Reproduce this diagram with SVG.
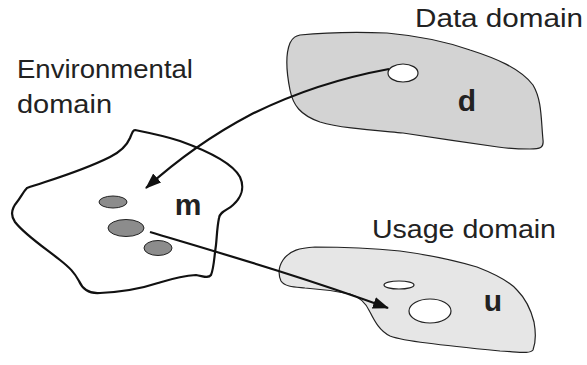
<svg xmlns="http://www.w3.org/2000/svg" width="587" height="365" viewBox="0 0 587 365">
<defs>
<style>
.lbl{font-family:"Liberation Sans",Arial,sans-serif;font-size:25px;fill:#222}
.big{font-family:"Liberation Sans",Arial,sans-serif;font-size:30px;font-weight:bold;fill:#222;text-anchor:middle}
.conn{fill:none;stroke:#111;stroke-width:2.2}
.dot{fill:#8c8c8c;stroke:#222;stroke-width:1}
.hole{fill:#fff;stroke:#222;stroke-width:1.2}
</style>
<marker id="ah" viewBox="0 0 16 12" refX="15" refY="6" markerWidth="16" markerHeight="12" markerUnits="userSpaceOnUse" orient="auto">
<path d="M0,0 L16,6 L0,12 Z" fill="#111"/>
</marker>
</defs>
<rect width="587" height="365" fill="#fff"/>

<g id="data-domain">
<path d="M300,35 C330,32 360,32 387,33 C420,36 450,43 470,50 C495,58 520,68 533,85 C542,100 541,120 543,140 C544,148 540,149 530,149 C515,149 505,148 498,147 C470,143 430,137 403,133 C370,130 340,128 320,122 C300,115 293,105 290,90 C287,75 285,55 290,43 C293,37 296,36 300,35 Z" fill="#d3d3d3" stroke="#222" stroke-width="1.2"/>
<ellipse class="hole" cx="403" cy="73" rx="15" ry="9"/>
<text class="big" x="467" y="111">d</text>
<text class="lbl" x="415" y="27" textLength="168" lengthAdjust="spacingAndGlyphs">Data domain</text>
</g>

<g id="environmental-domain">
<path d="M135,130 C150,133 165,136 180,141 C205,150 232,162 240,177 C245,188 241,198 233,205 C228,210 220,211 219,218 C217,228 217,235 216,245 C214,258 214,268 211,275 C208,279 203,276 196,275 C180,276 168,280 158,283 C140,289 120,292 100,293 C88,294 82,288 79,281 C74,272 70,268 60,260 C45,248 25,235 15,222 C10,215 12,208 17,202 C21,197 23,192 27,188 C50,180 80,172 110,157 C122,151 127,145 130,138 C132,133 133,130 135,130 Z" fill="#fff" stroke="#111" stroke-width="2.2"/>
<ellipse class="dot" cx="113" cy="202" rx="14" ry="6"/>
<ellipse class="dot" cx="126" cy="228" rx="18" ry="8.5"/>
<ellipse class="dot" cx="158" cy="248" rx="14" ry="7.5"/>
<text class="big" x="188" y="215">m</text>
<text class="lbl" x="17" y="78" textLength="176" lengthAdjust="spacingAndGlyphs">Environmental</text>
<text class="lbl" x="17" y="113" textLength="95" lengthAdjust="spacingAndGlyphs">domain</text>
</g>

<g id="usage-domain">
<path d="M283,260 C290,250 300,248 315,247 C350,247 380,249 400,251 C430,255 460,262 477,267 C495,274 510,282 517,290 C527,300 531,310 534,322 C536,333 536,342 533,350 C530,354 520,352 500,351 C480,349 450,346 427,343 C410,341 398,339 390,336 C380,331 375,322 370,312 C366,303 360,297 350,294 C335,291 320,289 305,288 C295,287 285,287 281,281 C278,274 279,266 283,260 Z" fill="#e6e6e6" stroke="#222" stroke-width="1.2"/>
<ellipse class="hole" cx="399" cy="285" rx="15" ry="4"/>
<ellipse class="hole" cx="430" cy="311" rx="21" ry="12"/>
<text class="big" x="493" y="311">u</text>
<text class="lbl" x="372" y="238" textLength="184" lengthAdjust="spacingAndGlyphs">Usage domain</text>
</g>

<g id="connectors">
<path class="conn" d="M389,69 C340,78 290,95 250,115 C210,136 175,162 146,188" marker-end="url(#ah)"/>
<path class="conn" d="M150,232 C220,253 300,276 388,308" marker-end="url(#ah)"/>
</g>
</svg>
